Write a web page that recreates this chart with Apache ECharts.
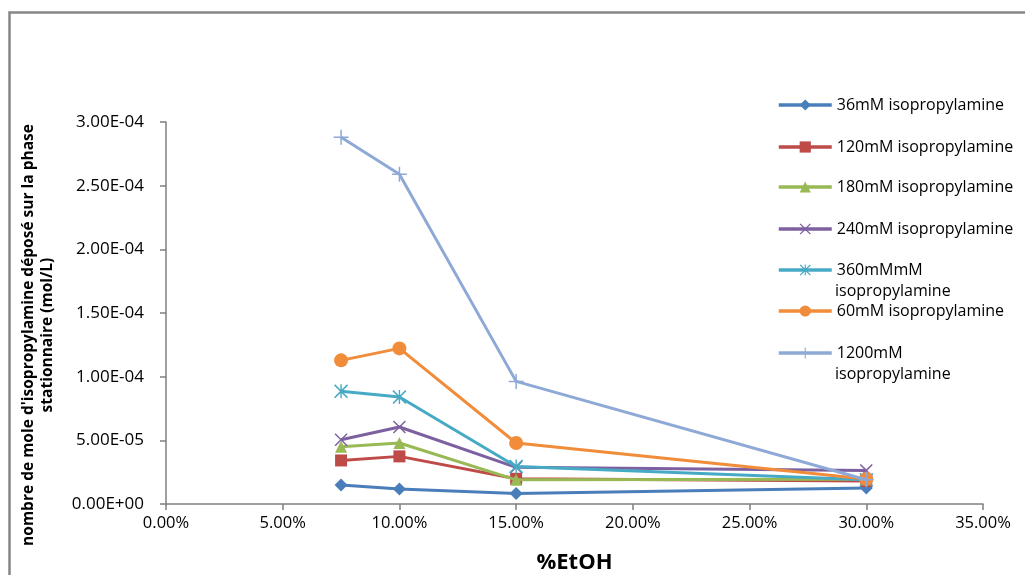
<!DOCTYPE html>
<html>
<head>
<meta charset="utf-8">
<script src="https://cdn.jsdelivr.net/npm/echarts@6/dist/echarts.min.js"></script>
<style>html,body{margin:0;padding:0;background:#fff}#c{width:1025px;height:575px}</style>
</head>
<body>
<div id="c"></div>
<script>
// ---- data ----
const etoh = [0.075, 0.10, 0.15, 0.30];
const seriesNames = [
  '36mM isopropylamine',
  '120mM isopropylamine',
  '180mM isopropylamine',
  '240mM isopropylamine',
  '360mMmM isopropylamine',
  '60mM isopropylamine',
  '1200mM isopropylamine'
];
const v36   = [1.49e-5, 1.18e-5, 0.82e-5, 1.26e-5];
const v120  = [3.42e-5, 3.74e-5, 1.98e-5, 1.80e-5];
const v180  = [4.50e-5, 4.79e-5, 1.90e-5, 1.95e-5];
const v240  = [5.05e-5, 6.05e-5, 2.88e-5, 2.64e-5];
const v360  = [8.85e-5, 8.40e-5, 2.95e-5, 1.90e-5];
const v60   = [11.28e-5, 12.22e-5, 4.79e-5, 1.96e-5];
const v1200 = [28.8e-5, 25.9e-5, 9.63e-5, 1.90e-5];
const allValues = [v36, v120, v180, v240, v360, v60, v1200];
const yTicks = [0, 5e-5, 1e-4, 1.5e-4, 2e-4, 2.5e-4, 3e-4];
const xTicks = [0, 0.05, 0.10, 0.15, 0.20, 0.25, 0.30, 0.35];
const xTitle = '%EtOH';
const yTitle = "nombre de mole d'isopropylamine déposé sur la phase\nstationnaire (mol/L)";

// ---- styles ----
const colors = ['#4A7EBB', '#BE4B48', '#98B954', '#7D60A0', '#46AAC5', '#F08C3A', '#8EA9D6'];
const P_X = 'path://M1.6,0 L10,8.4 L18.4,0 L20,1.6 L11.6,10 L20,18.4 L18.4,20 L10,11.6 L1.6,20 L0,18.4 L8.4,10 L0,1.6 Z';
const P_STAR = 'path://M1.6,0 L10,8.4 L18.4,0 L20,1.6 L11.6,10 L20,18.4 L18.4,20 L10,11.6 L1.6,20 L0,18.4 L8.4,10 L0,1.6 Z M9,0 L11,0 L11,20 L9,20 Z';
const P_PLUS = 'path://M9,0 L11,0 L11,9 L20,9 L20,11 L11,11 L11,20 L9,20 L9,11 L0,11 L0,9 L9,9 Z';
const symbols = ['diamond', 'rect', 'triangle', P_X, P_STAR, 'circle', P_PLUS];
const symbolSizes = [13, 12, 12, 13, 14, 14, 15];
const legendTops = [108, 150, 190, 232, 273, 314, 356];
const FONT = '"Open Sans", sans-serif';

const fmtY = v => {
  if (v === 0) return '0.00E+00';
  let e = Math.floor(Math.log10(Math.abs(v)) + 1e-9);
  let m = v / Math.pow(10, e);
  const sign = e < 0 ? '-' : '+';
  const ea = Math.abs(e);
  return m.toFixed(2) + 'E' + sign + (ea < 10 ? '0' + ea : ea);
};

const series = seriesNames.map((name, i) => ({
  name: name,
  type: 'line',
  data: etoh.map((x, j) => [x, allValues[i][j]]),
  symbol: symbols[i],
  symbolSize: symbolSizes[i],
  showAllSymbol: true,
  lineStyle: { width: 3, color: colors[i] },
  itemStyle: { color: colors[i], borderWidth: 0 },
  emphasis: { disabled: true },
  animation: false,
  z: 2 + i
}));

const legends = seriesNames.map((name, i) => ({
  data: [name],
  left: 777,
  top: legendTops[i] - 11,
  orient: 'vertical',
  itemWidth: 53,
  itemHeight: 14,
  itemGap: 0,
  padding: 0,
  selectedMode: false,
  lineStyle: { width: 3.5, color: colors[i] },
  itemStyle: { color: colors[i], borderWidth: 0 },
  textStyle: { fontFamily: FONT, fontSize: 16, color: '#000' },
  formatter: n => (i === 4 || i === 6) ? n.split(' ')[0] : n
}));

const chart = echarts.init(document.getElementById('c'), null, { renderer: 'canvas' });
chart.setOption({
  animation: false,
  color: colors,
  grid: { left: 166, right: 42, top: 122, bottom: 71, containLabel: false, outerBoundsMode: 'none' },
  xAxis: {
    type: 'value', min: 0, max: 0.35, interval: 0.05,
    name: xTitle, nameLocation: 'middle', nameGap: 48,
    nameTextStyle: { fontFamily: FONT, fontSize: 22, fontWeight: 'bold', color: '#000' },
    axisLine: { show: true, lineStyle: { color: '#7f7f7f', width: 1.5 } },
    axisTick: { show: true, inside: false, length: 6, lineStyle: { color: '#7f7f7f', width: 1.5 } },
    axisLabel: { fontFamily: FONT, fontSize: 16.5, color: '#000', margin: 11, formatter: v => (v * 100).toFixed(2) + '%' },
    splitLine: { show: false }
  },
  yAxis: {
    type: 'value', min: 0, max: 3e-4, interval: 5e-5,
    axisLine: { show: true, lineStyle: { color: '#7f7f7f', width: 1.5 } },
    axisTick: { show: true, inside: false, length: 6, lineStyle: { color: '#7f7f7f', width: 1.5 } },
    axisLabel: { fontFamily: FONT, fontSize: 17, color: '#000', margin: 22, formatter: fmtY },
    splitLine: { show: false }
  },
  legend: legends,
  graphic: [
    { type: 'rect', left: 7, top: 10, shape: { x: 0, y: 0, width: 1200, height: 800 }, style: { fill: 'none', stroke: '#868686', lineWidth: 2.5 }, silent: true, z: -1 },
    { type: 'text', x: 38, y: 335, rotation: Math.PI / 2,
      style: { text: yTitle, font: 'bold 15.5px ' + FONT, fill: '#000', align: 'center', verticalAlign: 'middle', lineHeight: 19 } },
    { type: 'text', left: 835, top: 283, style: { text: 'isopropylamine', font: '16px ' + FONT, fill: '#000' } },
    { type: 'text', left: 835, top: 366, style: { text: 'isopropylamine', font: '16px ' + FONT, fill: '#000' } }
  ],
  series: series
});
</script>
</body>
</html>
